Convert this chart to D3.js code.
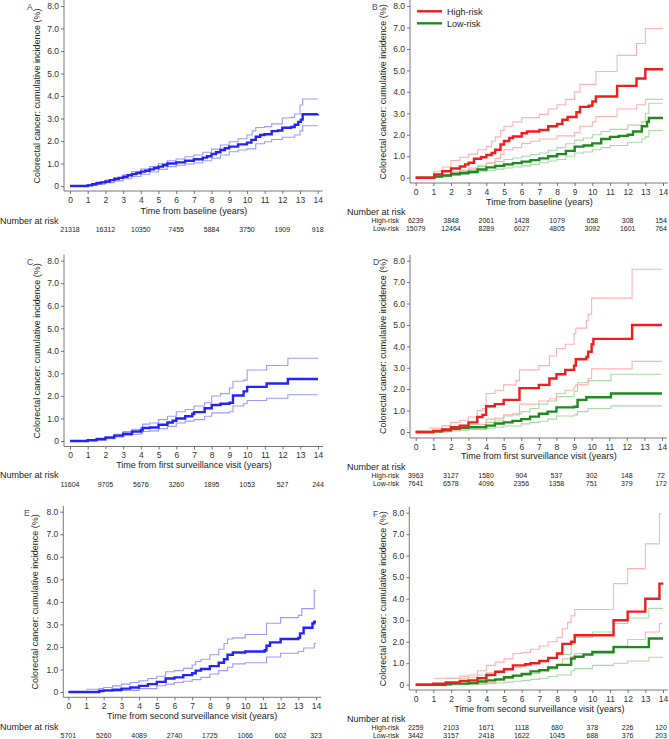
<!DOCTYPE html>
<html><head><meta charset="utf-8">
<script src="https://cdn.jsdelivr.net/npm/d3@7"></script>
<style>
html,body{margin:0;padding:0;background:#fff;}
svg{display:block;font-family:"Liberation Sans",Arial,Helvetica,sans-serif;}
</style></head>
<body>
<svg id="c" width="669" height="739"></svg>
<script>
// ---------- DATA ----------
const xTicks = [0,1,2,3,4,5,6,7,8,9,10,11,12,13,14];
const yTicks = [0,1,2,3,4,5,6,7,8];
const yTickLabels = ["0","1.0","2.0","3.0","4.0","5.0","6.0","7.0","8.0"];
const riskTimes = [0,2,4,6,8,10,12,14];
const groupNames = ["High-risk","Low-risk"];
const panelLetters = ["A","B","C","D","E","F"];
const xTitles = ["Time from baseline (years)","Time from first surveillance visit (years)","Time from second surveillance visit (years)"];
const yTitle = "Colorectal cancer: cumulative incidence (%)";

// Panel A (all)
const aEst = [[0,0],[0.9,0],[1.0,0.03],[1.25,0.08],[1.5,0.12],[1.75,0.16],[2,0.2],[2.25,0.26],[2.5,0.31],[2.75,0.36],[3,0.41],[3.25,0.48],[3.5,0.53],[3.75,0.58],[4,0.64],[4.25,0.68],[4.5,0.74],[4.75,0.8],[5,0.86],[5.25,0.92],[5.5,1.0],[6,1.05],[6.5,1.12],[7,1.19],[7.5,1.26],[7.75,1.32],[8,1.42],[8.25,1.5],[8.5,1.6],[8.75,1.68],[9,1.75],[9.5,1.85],[10,1.93],[10.25,2.05],[10.5,2.19],[10.75,2.27],[11,2.3],[11.4,2.44],[11.75,2.47],[12,2.59],[12.5,2.62],[12.7,2.72],[12.9,2.85],[13.05,2.95],[13.15,3.19],[14,3.2]];
const aUp = [[0,0],[0.9,0],[1.0,0.06],[1.5,0.18],[2,0.27],[2.5,0.38],[3,0.5],[3.5,0.64],[4,0.75],[4.5,0.86],[5,1.0],[5.5,1.12],[6,1.2],[6.5,1.3],[7,1.38],[7.5,1.5],[8,1.64],[8.5,1.82],[9,1.97],[9.5,2.1],[10,2.27],[10.3,2.45],[10.5,2.6],[11,2.64],[11.4,2.76],[12,3.02],[12.5,3.05],[12.7,3.2],[13,3.6],[13.15,3.87],[14,3.87]];
const aLo = [[0,0],[0.9,0],[1.0,0.02],[1.5,0.08],[2,0.15],[2.5,0.23],[3,0.32],[3.5,0.42],[4,0.52],[4.5,0.62],[5,0.74],[5.5,0.86],[6,0.92],[6.5,0.98],[7,1.02],[7.5,1.12],[8,1.24],[8.5,1.38],[9,1.52],[9.5,1.6],[10,1.65],[10.5,1.88],[11,1.97],[11.4,2.07],[12,2.17],[12.7,2.27],[13,2.45],[13.15,2.68],[14,2.68]];
const aRisk = [21318,16312,10350,7455,5884,3750,1909,918];

// Panel B (high / low risk)
const bHighEst = [[0,0],[1.0,0],[1.05,0.15],[1.5,0.3],[2,0.43],[2.5,0.52],[2.8,0.62],[3,0.7],[3.3,0.88],[3.7,0.95],[4,1.06],[4.3,1.15],[4.5,1.3],[4.8,1.55],[5,1.71],[5.3,1.85],[5.5,1.92],[6,2.07],[6.3,2.15],[7,2.22],[7.5,2.4],[8,2.5],[8.3,2.7],[8.6,2.83],[9.1,3.05],[9.3,3.3],[9.8,3.35],[10,3.55],[10.2,3.78],[11.4,4.28],[12.5,4.62],[13,5.05],[14,5.05]];
const bHighUp = [[0,0],[1.0,0],[1.05,0.3],[1.5,0.5],[2,0.8],[2.5,0.95],[3,1.1],[3.5,1.3],[4,1.45],[4.3,1.7],[4.5,1.9],[4.8,2.2],[5,2.4],[5.5,2.6],[6,2.8],[7,2.95],[7.5,3.2],[8,3.4],[8.5,3.65],[9,4.0],[9.3,4.35],[10.2,4.95],[11.4,5.7],[12.5,6.25],[13,6.95],[14,6.95]];
const bHighLo = [[0,0],[1.0,0],[1.05,0.05],[1.5,0.15],[2,0.25],[2.5,0.35],[3,0.45],[3.5,0.58],[4,0.7],[4.5,0.9],[4.8,1.1],[5,1.3],[5.5,1.4],[6,1.6],[6.5,1.7],[7,1.8],[8,1.95],[9,2.1],[9.3,2.4],[10,2.6],[10.2,2.85],[11.4,3.2],[12.5,3.4],[13,3.65],[14,3.65]];
const bLowEst = [[0,0],[1.0,0],[1.05,0.05],[1.5,0.1],[2,0.17],[2.5,0.22],[3,0.28],[3.5,0.38],[4,0.48],[4.5,0.55],[5,0.62],[5.5,0.68],[6,0.75],[6.5,0.82],[7,0.9],[7.5,1.0],[8,1.1],[8.5,1.25],[9,1.45],[9.5,1.5],[10,1.6],[10.5,1.8],[11,1.9],[11.5,1.95],[12,2.0],[12.3,2.15],[12.8,2.4],[13.1,2.6],[13.2,2.78],[14,2.78]];
const bLowUp = [[0,0],[1.0,0],[1.05,0.08],[1.5,0.15],[2,0.25],[2.5,0.32],[3,0.4],[3.5,0.52],[4,0.65],[4.5,0.75],[5,0.85],[5.5,0.92],[6,1.0],[6.5,1.08],[7,1.15],[7.5,1.28],[8,1.4],[8.5,1.58],[9,1.75],[9.5,1.85],[10,2.0],[10.5,2.15],[11,2.25],[12,2.45],[12.8,2.6],[13,3.0],[13.2,3.47],[14,3.47]];
const bLowLo = [[0,0],[1.0,0],[1.05,0.02],[1.5,0.06],[2,0.1],[2.5,0.15],[3,0.2],[3.5,0.28],[4,0.35],[4.5,0.4],[5,0.45],[5.5,0.5],[6,0.55],[6.5,0.62],[7,0.7],[7.5,0.78],[8,0.85],[8.5,1.0],[9,1.15],[9.5,1.2],[10,1.3],[10.5,1.4],[11,1.5],[12,1.65],[12.8,1.8],[13,1.9],[13.2,2.2],[14,2.2]];
const bHighRisk = [6239,3848,2061,1428,1079,658,308,154];
const bLowRisk = [15079,12464,8289,6027,4805,3092,1601,764];

// Panel C (all)
const cEst = [[0,0],[0.7,0],[1,0.03],[1.5,0.08],[2,0.15],[2.5,0.24],[3,0.32],[3.5,0.42],[4,0.48],[4.1,0.58],[4.5,0.6],[5,0.72],[5.5,0.82],[5.8,0.9],[6,1.0],[6.5,1.1],[6.9,1.2],[7,1.28],[7.6,1.45],[8,1.6],[8.5,1.65],[9,1.7],[9.2,2.02],[9.8,2.2],[10,2.4],[11.1,2.55],[12.3,2.75],[14,2.75]];
const cUp = [[0,0],[0.7,0],[1,0.06],[1.5,0.13],[2,0.2],[2.5,0.3],[3,0.42],[3.5,0.52],[4,0.6],[4.1,0.75],[4.5,0.8],[5,0.95],[5.5,1.1],[6,1.3],[6.5,1.4],[7,1.55],[7.6,1.7],[8,2.0],[8.5,2.1],[9,2.35],[9.2,2.65],[9.8,2.7],[10,3.15],[11.1,3.35],[12.3,3.67],[14,3.67]];
const cLo = [[0,0],[0.7,0],[1,0.01],[1.5,0.05],[2,0.1],[2.5,0.18],[3,0.25],[3.5,0.3],[4,0.35],[4.1,0.42],[4.5,0.45],[5,0.55],[5.5,0.65],[6,0.8],[6.5,0.88],[7,0.95],[7.6,1.1],[8,1.25],[9,1.3],[9.2,1.55],[9.8,1.65],[10,1.8],[11.1,1.9],[12.3,2.05],[14,2.05]];
const cRisk = [11604,9705,5676,3260,1895,1053,527,244];

// Panel D (high / low risk)
const dHighEst = [[0,0],[0.8,0],[1,0.05],[1.5,0.12],[2,0.22],[2.5,0.3],[3,0.45],[3.5,0.7],[3.8,0.8],[4,1.2],[4.5,1.3],[5,1.5],[5.9,2.05],[7,2.2],[7.6,2.5],[8,2.7],[8.5,2.9],[9,3.1],[9.1,3.4],[9.7,3.5],[9.8,3.75],[10,4.1],[10.1,4.35],[12.3,5.0],[14,5.0]];
const dHighUp = [[0.75,0.18],[1.5,0.3],[2,0.45],[2.5,0.55],[3,0.7],[3.5,1.0],[3.8,1.1],[4,1.8],[4.5,1.95],[5,2.2],[5.7,2.4],[5.9,2.9],[7,3.1],[7.6,3.55],[8,3.9],[8.5,4.1],[9,4.6],[9.1,4.85],[9.7,5.2],[9.8,5.5],[10,6.25],[12.3,7.6],[14,7.6]];
const dHighLo = [[0.75,0],[2,0.05],[2.5,0.1],[3,0.2],[3.5,0.35],[4,0.6],[4.5,0.65],[5,0.8],[5.9,1.3],[7,1.45],[7.6,1.55],[8,1.8],[8.5,1.95],[9,2.1],[9.1,2.2],[9.8,2.5],[10,2.95],[12.3,3.3],[14,3.3]];
const dLowEst = [[0,0],[0.7,0],[1,0.03],[1.5,0.08],[2,0.15],[2.5,0.2],[3,0.22],[4,0.3],[4.5,0.4],[5,0.45],[5.5,0.52],[6,0.6],[6.5,0.72],[7,0.85],[7.5,0.95],[8,1.15],[9,1.18],[9.2,1.5],[9.7,1.62],[11.1,1.8],[14,1.8]];
const dLowUp = [[0,0],[0.7,0],[1,0.06],[1.5,0.12],[2,0.2],[2.5,0.28],[3,0.35],[4,0.45],[4.5,0.55],[5,0.75],[5.5,0.85],[6,0.95],[6.5,1.1],[7,1.3],[7.5,1.45],[8,1.65],[9,1.9],[9.2,2.3],[9.8,2.4],[11.1,2.7],[14,2.7]];
const dLowLo = [[0,0],[0.7,0],[1,0.01],[1.5,0.04],[2,0.08],[3,0.12],[4,0.18],[4.5,0.22],[5,0.28],[6,0.38],[6.5,0.45],[7,0.5],[7.5,0.6],[8,0.75],[9,0.8],[9.2,0.95],[9.8,1.1],[11.1,1.22],[14,1.22]];
const dHighRisk = [3963,3127,1580,904,537,302,148,72];
const dLowRisk = [7641,6578,4096,2356,1358,751,379,172];

// Panel E (all)
const eEst = [[0,0],[1.7,0],[1.75,0.05],[2,0.07],[2.5,0.1],[3,0.15],[3.5,0.2],[4,0.27],[4.5,0.35],[5,0.45],[5.5,0.6],[6,0.65],[6.5,0.75],[7,0.83],[7.2,0.95],[7.5,1.02],[8,1.15],[8.5,1.3],[8.8,1.45],[9,1.65],[9.3,1.75],[10,1.8],[11.1,1.85],[11.2,2.05],[11.4,2.2],[12,2.35],[13,2.4],[13.1,2.6],[13.3,2.85],[13.8,3.05],[13.9,3.12],[14,3.12]];
const eUp = [[1,0.12],[1.75,0.15],[2,0.2],[2.5,0.27],[3,0.35],[3.5,0.42],[4,0.5],[4.5,0.6],[5,0.7],[5.5,0.9],[6,0.95],[6.5,1.05],[7,1.2],[7.2,1.35],[7.5,1.45],[8,1.65],[8.5,1.9],[8.8,2.15],[9,2.35],[9.3,2.4],[10,2.55],[11.2,3.05],[12,3.3],[13,3.4],[13.2,3.7],[13.9,4.5],[14,4.5]];
const eLo = [[1.75,0],[2,0.03],[3,0.07],[4,0.15],[5,0.28],[5.5,0.35],[6,0.42],[6.5,0.48],[7,0.55],[7.5,0.65],[8,0.8],[8.5,0.95],[9,1.1],[9.3,1.25],[10,1.3],[11.2,1.55],[12,1.72],[13,1.8],[13.3,1.95],[13.9,2.15],[14,2.15]];
const eRisk = [5701,5260,4089,2740,1725,1066,602,323];

// Panel F (high / low risk)
const fHighEst = [[0,0],[1,0.05],[1.7,0.1],[2.5,0.18],[3,0.2],[3.5,0.3],[4,0.45],[4.5,0.6],[5,0.72],[5.5,0.9],[6.2,0.95],[6.5,1.0],[7,1.1],[7.5,1.25],[8,1.45],[8.3,1.9],[8.8,2.0],[9,2.3],[11.2,3.0],[12,3.4],[13,4.0],[13.8,4.7],[13.95,4.75]];
const fHighUp = [[1,0.3],[2,0.3],[2.5,0.4],[3,0.45],[3.5,0.65],[4,0.9],[4.5,1.05],[5,1.2],[5.5,1.45],[6,1.5],[6.5,1.65],[7,1.8],[7.5,2.0],[8,2.2],[8.3,2.6],[8.6,2.9],[8.8,3.2],[9,3.5],[11.2,4.7],[12,5.4],[13,6.55],[13.8,7.95],[13.95,7.95]];
const fHighLo = [[2,0],[3,0.05],[4,0.1],[4.5,0.2],[5,0.3],[5.5,0.38],[6,0.45],[6.5,0.52],[7,0.6],[7.5,0.72],[8,0.9],[8.3,1.2],[8.8,1.3],[9,1.45],[11.2,1.8],[12,2.1],[13,2.45],[13.8,2.85],[13.95,2.85]];
const fLowEst = [[0,0],[1.7,0.02],[2,0.05],[3,0.08],[3.5,0.15],[4,0.2],[4.5,0.25],[5,0.35],[5.5,0.42],[6,0.5],[6.5,0.62],[7,0.68],[7.5,0.8],[8,0.92],[8.8,1.22],[9,1.3],[9.5,1.4],[10,1.52],[11.2,1.75],[13.2,2.15],[14,2.15]];
const fLowUp = [[1.7,0.3],[3,0.35],[3.5,0.45],[4,0.55],[4.5,0.62],[5,0.7],[5.5,0.8],[6,0.9],[6.5,1.0],[7,1.1],[7.5,1.25],[8,1.4],[8.8,1.9],[9,2.2],[10,2.45],[11.2,2.85],[12,3.1],[13.2,3.55],[14,3.55]];
const fLowLo = [[3,0.02],[4,0.05],[4.5,0.08],[5,0.12],[5.5,0.16],[6,0.2],[6.5,0.25],[7,0.3],[7.5,0.38],[8,0.45],[8.8,0.65],[9,0.75],[10,0.9],[11.2,1.0],[12,1.1],[13.2,1.28],[14,1.28]];
const fHighRisk = [2259,2103,1671,1118,680,378,226,120];
const fLowRisk = [3442,3157,2418,1622,1045,688,376,203];

// ---------- STYLE / LAYOUT ----------
const COL = {
  blue:{main:"#2424f5", ci:"#9a9aff"},
  red:{main:"#f21c1c", ci:"#ffb0b0"},
  green:{main:"#1e8a1e", ci:"#a6daa6"}
};
const panels = [
  {letter:0, xt:0, yAxisX:64, x0:70, x14:317.7, y0:186, y8:6, axY:191, tickY:200, titleY:211, narY:220.5, rowY:[229],
   letterX:27, letterY:6, ytX:37,
   series:[{c:"blue", est:aEst, up:aUp, lo:aLo}], risk:[aRisk]},
  {letter:1, xt:0, yAxisX:410, x0:415.7, x14:663, y0:177.7, y8:6, axY:183, tickY:191.5, titleY:202, narY:212, rowY:[220.5,228],
   letterX:372, letterY:6, ytX:383, legend:true,
   series:[{c:"green", est:bLowEst, up:bLowUp, lo:bLowLo},{c:"red", est:bHighEst, up:bHighUp, lo:bHighLo}], risk:[bHighRisk,bLowRisk]},
  {letter:2, xt:1, yAxisX:64, x0:70, x14:318, y0:441, y8:260.7, axY:446.5, tickY:455, titleY:465, narY:475, rowY:[484],
   letterX:27, letterY:261, ytX:37,
   series:[{c:"blue", est:cEst, up:cUp, lo:cLo}], risk:[cRisk]},
  {letter:3, xt:1, yAxisX:410, x0:415.7, x14:662, y0:432, y8:260.7, axY:438, tickY:446.5, titleY:456, narY:466.5, rowY:[475,483.5],
   letterX:373, letterY:261, ytX:383,
   series:[{c:"green", est:dLowEst, up:dLowUp, lo:dLowLo},{c:"red", est:dHighEst, up:dHighUp, lo:dHighLo}], risk:[dHighRisk,dLowRisk]},
  {letter:4, xt:2, yAxisX:63.3, x0:68.3, x14:316, y0:692, y8:511.7, axY:697.3, tickY:706.5, titleY:716, narY:726.5, rowY:[735.5],
   letterX:24, letterY:512, ytX:35,
   series:[{c:"blue", est:eEst, up:eUp, lo:eLo}], risk:[eRisk]},
  {letter:5, xt:2, yAxisX:409.3, x0:415.7, x14:663, y0:684.7, y8:512.7, axY:690, tickY:699, titleY:708.5, narY:718.5, rowY:[727.5,735.5],
   letterX:373, letterY:513, ytX:383,
   series:[{c:"green", est:fLowEst, up:fLowUp, lo:fLowLo},{c:"red", est:fHighEst, up:fHighUp, lo:fHighLo}], risk:[fHighRisk,fLowRisk]}
];

const svg = d3.select("#c");
const AX = "#555";
const TXT = "#333";

panels.forEach(p => {
  const g = svg.append("g");
  const x = d3.scaleLinear().domain([0,14]).range([p.x0, p.x14]);
  const y = d3.scaleLinear().domain([0,8]).range([p.y0, p.y8]);

  // axis lines (own, Stata style L)
  g.append("line").attr("x1",p.yAxisX).attr("x2",p.yAxisX).attr("y1",p.y8-6).attr("y2",p.axY)
    .attr("stroke",AX).attr("stroke-width",0.8);
  g.append("line").attr("x1",p.yAxisX).attr("x2",Math.min(p.x14+5,668)).attr("y1",p.axY).attr("y2",p.axY)
    .attr("stroke",AX).attr("stroke-width",0.8);

  const ya = d3.axisLeft(y).tickValues(yTicks).tickFormat((d,i)=>yTickLabels[i]).tickSize(3).tickPadding(2);
  const yg = g.append("g").attr("transform",`translate(${p.yAxisX},0)`).call(ya);
  yg.select(".domain").remove();
  yg.selectAll("line").attr("stroke",AX).attr("stroke-width",0.8);
  yg.selectAll("text").attr("fill",TXT).style("font-size","8.5px");

  const xa = d3.axisBottom(x).tickValues(xTicks).tickFormat(d3.format("d")).tickSize(3).tickPadding(1);
  const xg = g.append("g").attr("transform",`translate(0,${p.axY})`).call(xa);
  xg.select(".domain").remove();
  xg.selectAll("line").attr("stroke",AX).attr("stroke-width",0.8);
  xg.selectAll("text").attr("fill",TXT).style("font-size","8.5px").attr("dy",null).attr("y",null)
    .attr("transform",null).each(function(){ d3.select(this).attr("y", p.tickY - p.axY + 3); });

  // titles
  g.append("text").attr("x",(p.x0+p.x14)/2).attr("y",p.titleY+3).attr("text-anchor","middle")
    .attr("fill","#222").style("font-size","9px").text(xTitles[p.xt]);
  g.append("text").attr("transform",`translate(${p.ytX+3},${(p.y0+p.y8)/2}) rotate(-90)`)
    .attr("text-anchor","middle").attr("fill","#222").style("font-size","9px").text(yTitle);
  g.append("text").attr("x",p.letterX).attr("y",p.letterY+3.5).attr("fill","#3a4a8a")
    .style("font-size","8.5px").text(panelLetters[p.letter]);

  // curves
  const line = d3.line().x(d=>x(d[0])).y(d=>y(d[1])).curve(d3.curveStepAfter);
  p.series.forEach(s=>{
    [s.up, s.lo].forEach(ci=>{
      g.append("path").attr("d",line(ci)).attr("fill","none").attr("stroke",COL[s.c].ci).attr("stroke-width",1.1);
    });
  });
  p.series.forEach(s=>{
    g.append("path").attr("d",line(s.est)).attr("fill","none").attr("stroke",COL[s.c].main)
      .attr("stroke-width",2.4).attr("stroke-linejoin","miter");
  });

  // legend
  if (p.legend) {
    const lg = [{c:"red",t:groupNames[0],yy:11.3},{c:"green",t:groupNames[1],yy:23.3}];
    lg.forEach(l=>{
      g.append("line").attr("x1",417).attr("x2",442).attr("y1",l.yy).attr("y2",l.yy)
        .attr("stroke",COL[l.c].main).attr("stroke-width",2.4);
      g.append("text").attr("x",447).attr("y",l.yy+3.3).attr("fill","#222").style("font-size","9px").text(l.t);
    });
  }

  // number at risk
  const narX = p.risk.length>1 ? 347 : 0;
  g.append("text").attr("x",narX).attr("y",p.narY+3.2).attr("fill","#222").style("font-size","9px").text("Number at risk");
  p.risk.forEach((row,ri)=>{
    if (p.risk.length>1) {
      g.append("text").attr("x",399).attr("y",p.rowY[ri]+2.5).attr("text-anchor","end")
        .attr("fill","#222").style("font-size","7px").text(groupNames[ri]);
    }
    row.forEach((v,i)=>{
      let cx = x(riskTimes[i]);
      g.append("text").attr("x",Math.min(cx, 668-7)).attr("y",p.rowY[ri]+2.5).attr("text-anchor","middle")
        .attr("fill","#222").style("font-size","7px").text(v);
    });
  });
});
</script>
</body></html>
